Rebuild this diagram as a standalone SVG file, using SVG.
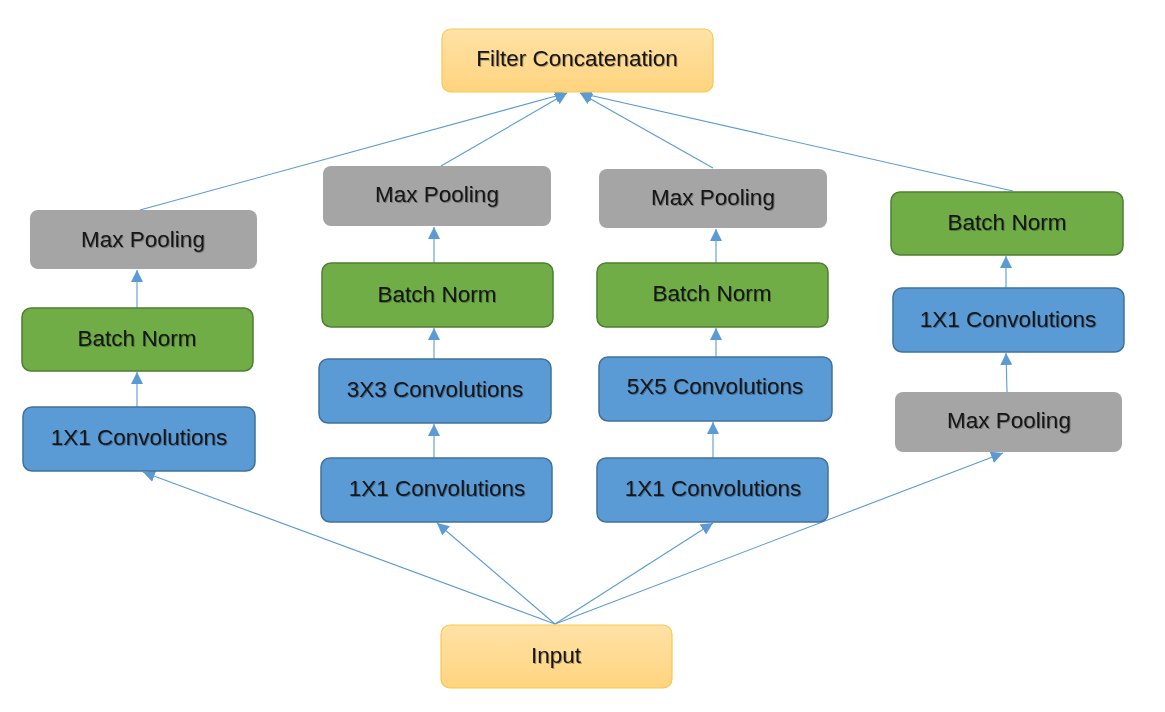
<svg xmlns="http://www.w3.org/2000/svg" width="1165" height="712" viewBox="0 0 1165 712">
<defs>
<linearGradient id="og" x1="0" y1="0" x2="0" y2="1"><stop offset="0" stop-color="#FFE2A6"/><stop offset="1" stop-color="#FFD47F"/></linearGradient>
<marker id="ah" viewBox="0 0 10 10" refX="10" refY="5" markerWidth="12" markerHeight="12" markerUnits="userSpaceOnUse" orient="auto"><path d="M0,0 L10,5 L0,10 z" fill="#5B9BD5"/></marker>
<filter id="ts" x="-10%" y="-30%" width="120%" height="160%"><feDropShadow dx="1" dy="1" stdDeviation="0.6" flood-color="#000" flood-opacity="0.3"/></filter>
</defs>
<style>
.o{fill:url(#og);stroke:#F9C74F;stroke-width:1.2}
.g{fill:#A5A5A5;stroke:none}
.n{fill:#70AD47;stroke:#507E32;stroke-width:1.5}
.b{fill:#5B9BD5;stroke:#41719C;stroke-width:1.5}
text{font-family:"Liberation Sans",Arial,sans-serif;font-size:22.5px;fill:#141414;text-anchor:middle;filter:url(#ts)}
.c line{stroke:#5B9BD5;stroke-width:1.1;marker-end:url(#ah)}
</style>
<rect width="1165" height="712" fill="#fff"/>
<g class="c" id="connectors">
<line x1="555" y1="624" x2="143" y2="472"/>
<line x1="555" y1="624" x2="437" y2="523"/>
<line x1="555" y1="624" x2="713" y2="523"/>
<line x1="555" y1="624" x2="1003" y2="453"/>
<line x1="137" y1="407" x2="137" y2="372"/>
<line x1="137" y1="308" x2="137" y2="270"/>
<line x1="434" y1="458" x2="434" y2="424"/>
<line x1="434" y1="359" x2="434" y2="328"/>
<line x1="434" y1="263" x2="434" y2="227"/>
<line x1="713" y1="458" x2="713" y2="422"/>
<line x1="716" y1="357" x2="716" y2="328"/>
<line x1="716" y1="263" x2="716" y2="229"/>
<line x1="1007" y1="392" x2="1006" y2="353"/>
<line x1="1006" y1="288" x2="1006" y2="256"/>
<line x1="140" y1="210" x2="567" y2="93"/>
<line x1="441" y1="166" x2="567" y2="93"/>
<line x1="713" y1="168" x2="580" y2="93"/>
<line x1="1013" y1="191" x2="580" y2="93"/>
</g>
<g id="concat"><rect class="o" x="442" y="29" width="271" height="63" rx="9"/><text x="577" y="66">Filter Concatenation</text></g>
<g id="input"><rect class="o" x="441" y="625" width="231" height="63" rx="9"/><text x="556" y="663">Input</text></g>
<g id="c1-pool"><rect class="g" x="30" y="210" width="227" height="59" rx="8"/><text x="143" y="247">Max Pooling</text></g>
<g id="c1-bn"><rect class="n" x="22" y="308" width="231" height="63" rx="9"/><text x="137" y="346">Batch Norm</text></g>
<g id="c1-conv"><rect class="b" x="23" y="407" width="232" height="64" rx="9"/><text x="139" y="445">1X1 Convolutions</text></g>
<g id="c2-pool"><rect class="g" x="323" y="166" width="228" height="60" rx="8"/><text x="437" y="202">Max Pooling</text></g>
<g id="c2-bn"><rect class="n" x="322" y="263" width="231" height="64" rx="9"/><text x="437" y="302">Batch Norm</text></g>
<g id="c2-conv3"><rect class="b" x="319" y="359" width="232" height="64" rx="9"/><text x="435" y="397">3X3 Convolutions</text></g>
<g id="c2-conv1"><rect class="b" x="321" y="458" width="231" height="64" rx="9"/><text x="437" y="496">1X1 Convolutions</text></g>
<g id="c3-pool"><rect class="g" x="599" y="169" width="228" height="59" rx="8"/><text x="713" y="205">Max Pooling</text></g>
<g id="c3-bn"><rect class="n" x="597" y="263" width="231" height="64" rx="9"/><text x="712" y="301">Batch Norm</text></g>
<g id="c3-conv5"><rect class="b" x="599" y="357" width="233" height="64" rx="9"/><text x="715" y="394">5X5 Convolutions</text></g>
<g id="c3-conv1"><rect class="b" x="597" y="458" width="231" height="64" rx="9"/><text x="713" y="496">1X1 Convolutions</text></g>
<g id="c4-bn"><rect class="n" x="891" y="192" width="232" height="63" rx="9"/><text x="1007" y="230">Batch Norm</text></g>
<g id="c4-conv"><rect class="b" x="893" y="288" width="231" height="64" rx="9"/><text x="1008" y="327">1X1 Convolutions</text></g>
<g id="c4-pool"><rect class="g" x="895" y="392" width="227" height="60" rx="8"/><text x="1009" y="428">Max Pooling</text></g>
</svg>
